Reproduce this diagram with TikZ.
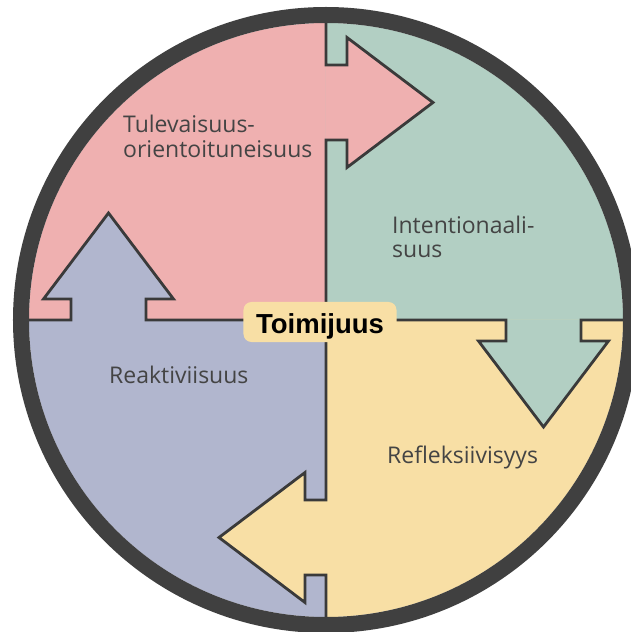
\documentclass[tikz,border=0pt]{standalone}
\usepackage{fontspec}
\setmainfont{Open Sans}
\newfontfamily\titlefont{Liberation Sans}
\definecolor{pinkq}{HTML}{EFB0B0}
\definecolor{greenq}{HTML}{B2CFC3}
\definecolor{yellowq}{HTML}{F8DFA5}
\definecolor{blueq}{HTML}{B1B6CE}
\definecolor{linec}{HTML}{3A3A3A}
\definecolor{ringc}{HTML}{404040}
\definecolor{txt}{HTML}{444444}
\begin{document}
\begin{tikzpicture}[x=1pt,y=1pt,
  edge/.style={draw=linec, line width=2.8pt, line join=miter},
  ringstyle/.style={draw=ringc, line width=16pt},
  lbl/.style={font=\fontsize{23}{25}\selectfont, text=txt, inner sep=0pt, align=left, anchor=base west}]
\useasboundingbox (-326,-312) rectangle (305,320);
\coordinate (c) at (0,0);
% quadrants
\fill[pinkq]   (c) -- (90:297)  arc[start angle=90,  end angle=180, radius=297] -- cycle;
\fill[greenq]  (c) -- (0:297)   arc[start angle=0,   end angle=90,  radius=297] -- cycle;
\fill[yellowq] (c) -- (-90:297) arc[start angle=-90, end angle=0,   radius=297] -- cycle;
\fill[blueq]   (c) -- (180:297) arc[start angle=180, end angle=270, radius=297] -- cycle;
% arrows and dividers
\foreach \r/\col in {0/pinkq,-90/greenq,-180/yellowq,90/blueq}{
  \begin{scope}[rotate=\r]
    \fill[\col] (0,255) -- (21,255) -- (21,282.5) -- (107,217.5) -- (21,152.5) -- (21,180) -- (0,180) -- cycle;
    \draw[edge] (0,0) -- (0,180) -- (21,180) -- (21,152.5) -- (107,217.5) -- (21,282.5) -- (21,255) -- (0,255) -- (0,300);
  \end{scope}
}
% ring
\draw[ringstyle] (c) circle[radius=305];
% labels
\node[lbl] (tul) at (-203,162) {Tulevaisuus-\\orientoituneisuus};
\node[lbl] (int) at (66,62) {Intentionaali-\\suus};
\node[lbl] (rea) at (-217,-63) {Reaktiviisuus};
\node[lbl] (ref) at (61,-143) {Refleksiivisyys};
\node[fill=yellowq, rounded corners=8pt, minimum width=153pt, inner sep=0pt,
      text height=31pt, text depth=9pt, font=\titlefont\bfseries\fontsize{27.5}{30}\selectfont,
      text=black] (toim) at (-6,-2) {Toimijuus};
\end{tikzpicture}
\end{document}
